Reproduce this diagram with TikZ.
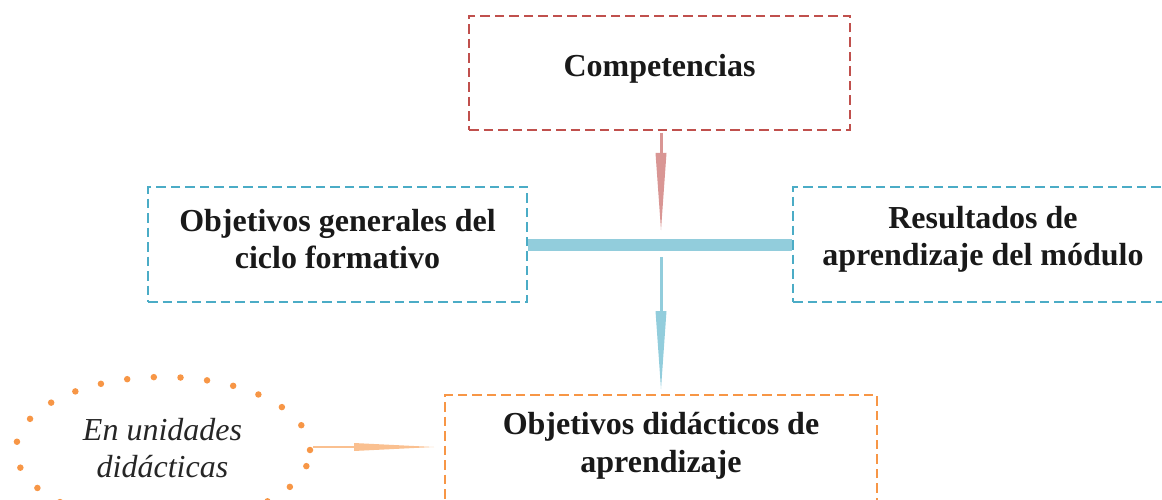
\documentclass[tikz,border=0pt]{standalone}
\usepackage{fontspec}
\setmainfont{Liberation Serif}
\usetikzlibrary{arrows.meta,shapes.geometric}
\definecolor{redB}{HTML}{C0504D}
\definecolor{redL}{HTML}{D99694}
\definecolor{blueB}{HTML}{4BACC6}
\definecolor{blueL}{HTML}{92CDDC}
\definecolor{orangeB}{HTML}{F79646}
\definecolor{orangeL}{HTML}{FAC090}
\begin{document}
\begin{tikzpicture}[x=1pt,y=-1pt,
  box/.style={rectangle, draw, line width=2pt, dash pattern=on 9.5pt off 5pt, inner sep=0pt},
  txt/.style={font=\fontsize{32}{37.5}\selectfont\bfseries, align=center, text=black!90, inner sep=0pt},
  itxt/.style={font=\fontsize{32}{37.5}\selectfont\itshape, align=center, text=black!85, inner sep=0pt},
  conn/.style={line width=3pt},
  barline/.style={draw=blueL, line width=12pt}
]
\useasboundingbox (0,0) rectangle (1162,500);
\clip (0,0) rectangle (1162,500);

\node[box, draw=redB, minimum width=381pt, minimum height=114pt] (comp) at (659.5,73) {};
\node[txt] (compt) at ([yshift=4.5pt]comp.center) {Competencias};

\node[box, draw=blueB, minimum width=379pt, minimum height=115pt] (left) at (337.5,244.5) {};
\node[txt] (leftt) at ([yshift=5.5pt]left.center) {Objetivos generales del\\ciclo formativo};

\node[box, draw=blueB, minimum width=380pt, minimum height=115pt] (right) at (983,244.5) {};
\node[txt] (rightt) at ([yshift=5pt]right.center) {Resultados de\\aprendizaje del módulo};

\node[box, draw=orangeB, minimum width=432pt, minimum height=115pt] (didac) at (661,452.5) {};
\node[txt] (didact) at (661,446) {Objetivos didácticos de\\aprendizaje};

\node[ellipse, draw=orangeB, line width=6.5pt, dash pattern=on 0pt off 26.7pt, line cap=round,
  minimum width=294pt, minimum height=146pt, inner sep=0pt] (ell) at (163,450) {};
\node[itxt] (ellt) at (162.5,448) {En unidades\\didácticas};

\draw[barline] (left.east) -- (right.west);
\coordinate (jn) at (661,245);

\draw[conn, draw=redL, shorten <=2pt, shorten >=15pt, -{Triangle[length=77pt,width=11pt,line width=0pt,fill=redL]}]
  (comp.south -| jn) -- (jn);
\draw[conn, draw=blueL, shorten <=12pt, shorten >=5pt, -{Triangle[length=78pt,width=11pt,line width=0pt,fill=blueL]}]
  (jn) -- (didac.north -| jn);
\draw[conn, line width=2.5pt, draw=orangeL, shorten >=10pt, -{Triangle[length=80pt,width=8pt,line width=0pt,fill=orangeL]}]
  ([yshift=3pt]ell.east) -- ([yshift=3pt]ell.east -| didac.west);
\end{tikzpicture}
\end{document}
